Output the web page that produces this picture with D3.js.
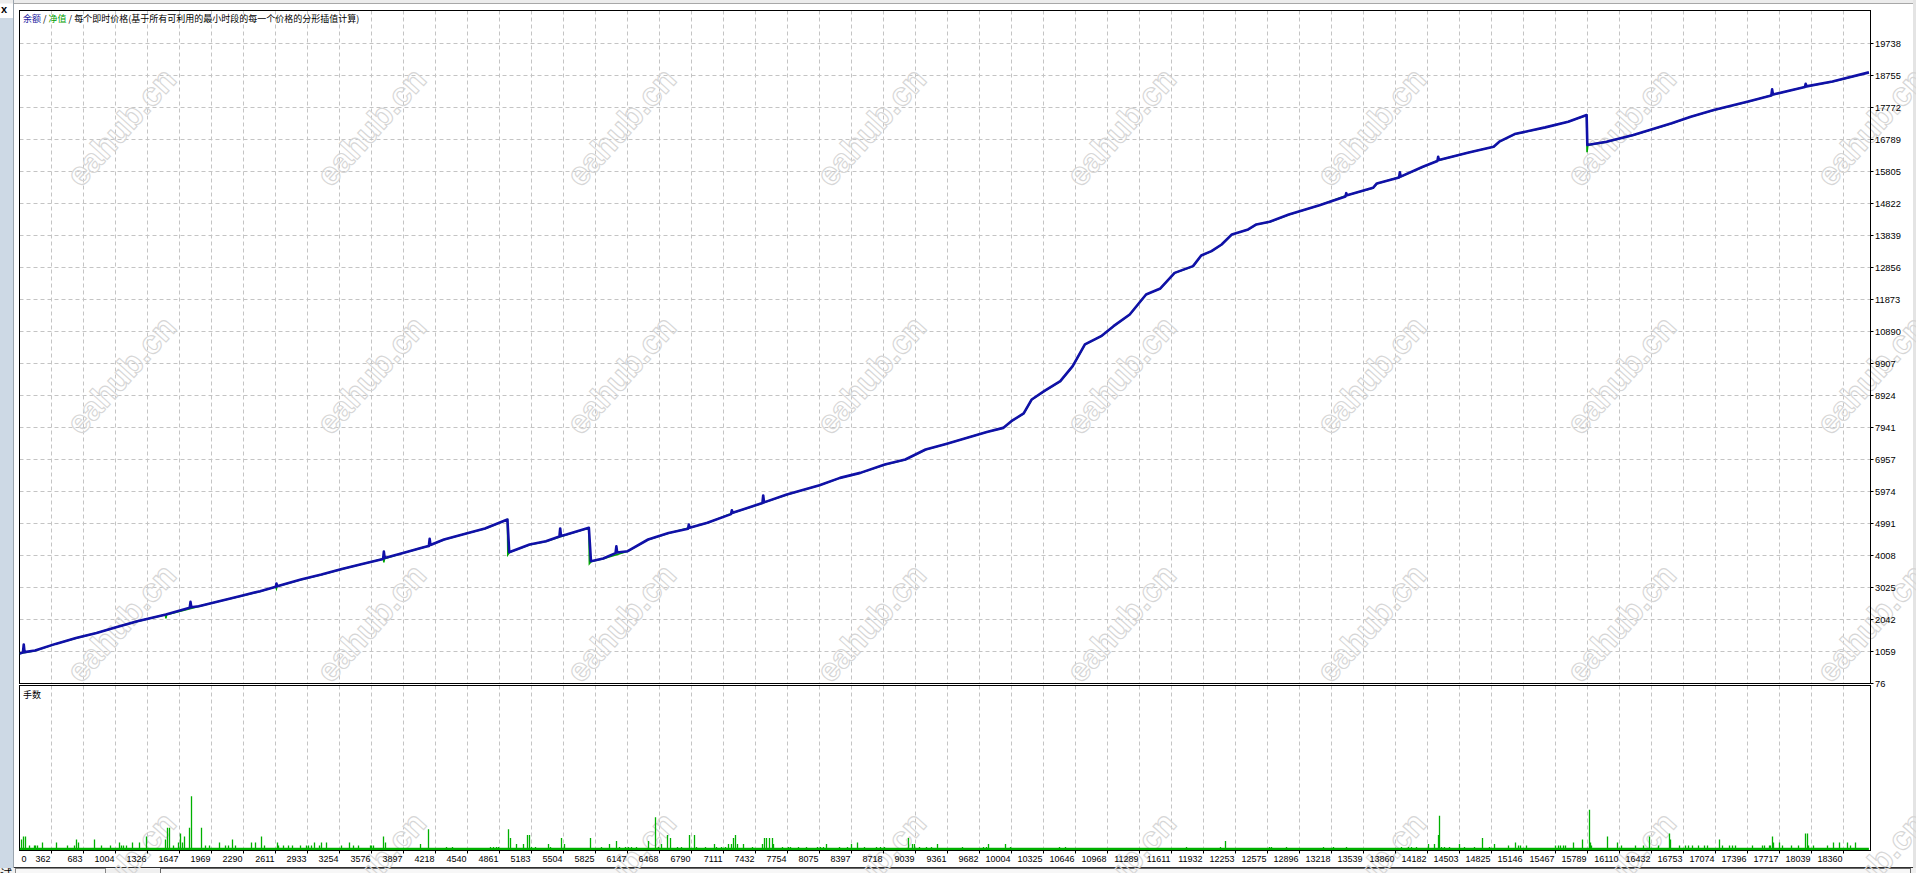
<!DOCTYPE html>
<html><head><meta charset="utf-8">
<script src="https://cdn.jsdelivr.net/npm/d3@7"></script>
<style>html,body{margin:0;padding:0;background:#fff;overflow:hidden}svg{display:block}</style>
</head><body><svg id="c" width="1916" height="873"></svg>
<script>
// ---------- DATA ----------
const xTickLabels = [0,362,683,1004,1326,1647,1969,2290,2611,2933,3254,3576,3897,4218,4540,4861,5183,5504,5825,6147,6468,6790,7111,7432,7754,8075,8397,8718,9039,9361,9682,10004,10325,10646,10968,11289,11611,11932,12253,12575,12896,13218,13539,13860,14182,14503,14825,15146,15467,15789,16110,16432,16753,17074,17396,17717,18039,18360];
const yTickLabels = [76,1059,2042,3025,4008,4991,5974,6957,7941,8924,9907,10890,11873,12856,13839,14822,15805,16789,17772,18755,19738];

// balance: [trade #, balance]
const balance = [[42,1000],[75,1030],[83,1274],[91,1040],[197,1090],[403,1293],[608,1477],[814,1630],[1019,1815],[1224,1990],[1511,2196],[1750,2400],[1758,2583],[1766,2420],[1840,2451],[2046,2604],[2251,2758],[2457,2912],[2615,3050],[2621,3150],[2628,3065],[2867,3271],[3073,3425],[3278,3597],[3483,3750],[3692,3900],[3700,4127],[3708,3930],[3893,4088],[4099,4263],[4152,4300],[4160,4521],[4168,4330],[4304,4500],[4509,4672],[4715,4838],[4941,5115],[4959,4110],[5164,4346],[5328,4448],[5463,4590],[5471,4838],[5479,4610],[5534,4653],[5759,4858],[5780,3833],[5903,3916],[6027,4080],[6035,4290],[6043,4100],[6149,4141],[6354,4500],[6559,4700],[6755,4830],[6763,4960],[6771,4860],[6949,5012],[7187,5280],[7195,5400],[7203,5319],[7502,5620],[7510,5852],[7518,5640],[7747,5883],[8076,6169],[8281,6393],[8485,6547],[8731,6804],[8937,6958],[9141,7265],[9346,7437],[9551,7621],[9756,7806],[9920,7929],[10002,8135],[10126,8372],[10207,8802],[10331,9057],[10494,9364],[10618,9825],[10741,10492],[10904,10747],[11028,11054],[11191,11413],[11355,12028],[11499,12212],[11642,12692],[11827,12898],[11909,13227],[12012,13359],[12114,13564],[12217,13872],[12381,14026],[12463,14180],[12596,14260],[12789,14485],[13097,14771],[13358,15040],[13366,15140],[13374,15078],[13635,15305],[13673,15438],[13896,15620],[13904,15780],[13912,15650],[14135,15951],[14281,16130],[14289,16260],[14297,16160],[14596,16392],[14846,16567],[14903,16721],[15057,16955],[15364,17161],[15595,17336],[15780,17539],[15787,16617],[15980,16721],[16249,16926],[16634,17285],[16826,17490],[17057,17695],[17403,17953],[17635,18140],[17643,18330],[17651,18170],[17972,18400],[17980,18500],[17988,18420],[18249,18570],[18615,18851]];

// equity: [trade #, equity]
const equity = [[42,1000],[197,1080],[403,1290],[608,1470],[814,1625],[1019,1810],[1224,1985],[1505,2190],[1511,2080],[1518,2190],[1840,2445],[2046,2600],[2251,2750],[2457,2905],[2615,3050],[2621,2990],[2628,3060],[2867,3265],[3073,3420],[3278,3590],[3483,3745],[3696,3905],[3700,3800],[3706,3910],[3893,4085],[4099,4258],[4304,4495],[4509,4668],[4715,4833],[4941,5110],[4945,4030],[4962,4105],[5164,4340],[5328,4443],[5534,4648],[5759,4853],[5764,3760],[5783,3828],[5903,3911],[6149,4136],[6354,4495],[6559,4695],[6949,5007],[7203,5314],[7518,5635],[7747,5878],[8076,6164],[8281,6388],[8485,6542],[8731,6799],[8937,6953],[9141,7260],[9346,7432],[9551,7616],[9756,7801],[9920,7924],[10002,8130],[10126,8367],[10207,8797],[10331,9052],[10494,9359],[10618,9820],[10741,10487],[10904,10742],[11028,11049],[11191,11408],[11355,12023],[11499,12207],[11642,12687],[11827,12893],[11909,13222],[12012,13354],[12114,13559],[12217,13867],[12381,14021],[12463,14175],[12596,14255],[12789,14480],[13097,14766],[13374,15073],[13635,15300],[13673,15433],[13912,15645],[14135,15946],[14297,16155],[14596,16387],[14846,16562],[14903,16716],[15057,16950],[15364,17156],[15595,17331],[15780,17534],[15784,16400],[15792,16612],[15980,16716],[16249,16921],[16634,17280],[16826,17485],[17057,17690],[17403,17948],[17651,18165],[17988,18415],[18249,18565],[18615,18846]];

// lots: [trade #, lots]
const lots = [[57,0.07],[77,0.09],[97,0.09],[141,0.03],[191,0.03],[204,0.03],[217,0.03],[268,0.05],[408,0.05],[523,0.03],[589,0.03],[613,0.07],[633,0.05],[794,0.07],[864,0.03],[955,0.03],[1045,0.05],[1068,0.03],[1088,0.03],[1115,0.03],[1176,0.05],[1242,0.05],[1316,0.09],[1510,0.07],[1527,0.15],[1547,0.15],[1583,0.03],[1638,0.05],[1654,0.11],[1674,0.05],[1694,0.09],[1744,0.15],[1764,0.36],[1871,0.15],[1912,0.03],[1945,0.03],[2045,0.05],[2109,0.03],[2143,0.03],[2176,0.07],[2206,0.03],[2367,0.05],[2407,0.05],[2467,0.09],[2497,0.03],[2632,0.05],[2642,0.03],[2695,0.03],[2742,0.03],[2779,0.03],[2863,0.03],[2923,0.03],[2943,0.03],[2969,0.03],[3003,0.05],[3057,0.03],[3074,0.05],[3124,0.05],[3271,0.03],[3351,0.05],[3398,0.03],[3441,0.03],[3566,0.03],[3579,0.03],[3592,0.03],[3692,0.09],[3716,0.05],
[4071,0.04],[4151,0.14],[4331,0.02],[4390,0.02],[4770,0.02],[4802,0.02],[4829,0.02],[4847,0.02],[4950,0.14],[4972,0.08],[5035,0.04],[5098,0.04],[5138,0.10],[5161,0.10],[5179,0.02],[5223,0.02],[5354,0.04],[5376,0.02],[5483,0.08],[5510,0.04],[5780,0.08],[5887,0.02],[5967,0.04],[6035,0.06],[6066,0.02],[6124,0.02],[6156,0.02],[6191,0.02],[6237,0.02],[6358,0.06],[6429,0.22],[6461,0.02],[6493,0.04],[6551,0.10],[6577,0.08],[6649,0.02],[6685,0.02],[6766,0.10],[6819,0.10],[6842,0.02],[6931,0.02],[7021,0.04],[7044,0.02],[7088,0.02],[7133,0.02],[7160,0.04],[7187,0.04],[7214,0.08],[7232,0.10],[7255,0.04],[7313,0.04],[7403,0.02],[7501,0.04],[7523,0.08],[7546,0.08],[7572,0.08],[7600,0.08],[7618,0.04],[7707,0.02],[7761,0.02],[7788,0.02],[7860,0.02],[7949,0.02],[8058,0.02],[8084,0.02],[8111,0.02],[8142,0.04],[8277,0.02],[8353,0.02],[8398,0.04],[8456,0.05],[8524,0.02],[8644,0.02],[8689,0.02],[8725,0.02],[8971,0.08],[9008,0.04],[9030,0.04],[9084,0.02],[9151,0.02],[9196,0.02],[9263,0.04],[9510,0.02],[9725,0.02],[9748,0.02],[9770,0.04],
[9941,0.04],[9994,0.02],[10482,0.02],[10548,0.02],[11759,0.02],[12104,0.02],[12155,0.06],[12592,0.02],[12616,0.02],[12762,0.02],[13135,0.02],[13242,0.02],[13365,0.02],[13922,0.02],[13992,0.02],[14019,0.02],[14069,0.02],[14192,0.04],[14250,0.04],[14288,0.10],[14307,0.23],[14326,0.02],[14353,0.02],[14404,0.02],[14499,0.04],[14557,0.02],[14654,0.02],[14738,0.08],[14807,0.02],[14857,0.04],
[14992,0.03],[15069,0.05],[15093,0.03],[15117,0.03],[15177,0.03],[15471,0.03],[15494,0.03],[15518,0.03],[15551,0.03],[15564,0.03],[15652,0.05],[15739,0.07],[15806,0.27],[15820,0.05],[15833,0.03],[15987,0.09],[16087,0.05],[16131,0.03],[16268,0.03],[16355,0.03],[16408,0.09],[16499,0.03],[16609,0.11],[16623,0.07],[16710,0.03],[16777,0.03],[16804,0.03],[16844,0.03],[16904,0.03],[16968,0.03],[16991,0.03],[17111,0.07],[17145,0.03],[17212,0.03],[17245,0.03],[17279,0.03],[17446,0.03],[17547,0.03],[17570,0.03],[17613,0.03],[17627,0.03],[17647,0.09],[17660,0.05],[17714,0.05],[17747,0.03],[17838,0.03],[17905,0.03],[17975,0.11],[17995,0.11],[18009,0.03],[18055,0.03],[18196,0.03],[18257,0.05],[18317,0.05],[18397,0.05],[18431,0.03],[18478,0.05]];
const baseLots = 0.015;
const firstTrade = 42, lastTrade = 18615;

const legendParts = [["余额","#1a1aa0"],[" / ","#000"],["净值","#00a000"],[" / 每个即时价格(基于所有可利用的最小时段的每一个价格的分形插值计算)","#000"]];
const lotsTitle = "手数";
const watermark = "eahub.cn";

// ---------- LAYOUT ----------
const L = 19.5, R = 1870.5, T = 10.5, B1 = 683.5, T2 = 685.5, B2 = 850.5;
const svg = d3.select("#c");
const x = d3.scaleLinear().domain([40.5, 18631]).range([L, R]);
const y = d3.scaleLinear().domain([76, 76 + 673/32*983.1]).range([B1, T]);
const yL = d3.scaleLinear().domain([0, 1.1]).range([850, 686]);
const px = v => Math.round(v - 0.5) + 0.5;
const CJK = "'Noto Sans CJK SC','Noto Sans',sans-serif";
const NUM = "'Liberation Sans',Arial,sans-serif";

// chrome
svg.append("rect").attr("x",0).attr("y",0).attr("width",1916).attr("height",873).attr("fill","#fff");
svg.append("rect").attr("x",0).attr("y",0).attr("width",1916).attr("height",3.5).attr("fill","#ececec");
svg.append("line").attr("x1",14).attr("x2",1916).attr("y1",3.5).attr("y2",3.5).attr("stroke","#a8a8a8");
svg.append("rect").attr("x",0).attr("y",18).attr("width",13).attr("height",850).attr("fill","#cdd9e5");
svg.append("line").attr("x1",13.5).attr("x2",13.5).attr("y1",0).attr("y2",873).attr("stroke","#9aa4ae");
svg.append("text").attr("x",1).attr("y",13).attr("font-family",NUM).attr("font-weight","bold").attr("font-size",11).text("x");
svg.append("rect").attr("x",1913).attr("y",0).attr("width",3).attr("height",873).attr("fill","#e4e4e4");
svg.append("rect").attr("x",0).attr("y",868).attr("width",1916).attr("height",5).attr("fill","#f0f0f0");
svg.append("line").attr("x1",14).attr("x2",1913).attr("y1",867.5).attr("y2",867.5).attr("stroke","#303030");
svg.append("rect").attr("x",15.5).attr("y",868.5).attr("width",90).attr("height",8).attr("fill","#f7f7f7").attr("stroke","#888");
svg.append("rect").attr("x",160.5).attr("y",868.5).attr("width",1750).attr("height",8).attr("fill","#f7f7f7").attr("stroke","#666");
svg.append("text").attr("x",0).attr("y",879).attr("font-family",CJK).attr("font-size",12).text("试");

// grid
const gx = xTickLabels.filter(v => v > 0).map(v => px(x(v)));
const gGrid = svg.append("g").attr("stroke","#c4c4c4").attr("stroke-dasharray","4,3").attr("stroke-width",1);
gx.forEach(X => {
  gGrid.append("line").attr("x1",X).attr("x2",X).attr("y1",T).attr("y2",B1);
  gGrid.append("line").attr("x1",X).attr("x2",X).attr("y1",T2).attr("y2",B2);
});
yTickLabels.filter(v => v > 76).forEach(v => {
  const Y = px(y(v));
  gGrid.append("line").attr("x1",L).attr("x2",R).attr("y1",Y).attr("y2",Y);
});

// watermarks
const wm = svg.append("g");
[127,375,623,871].forEach(cy => d3.range(8).forEach(i => {
  const cx = 121 + 250*i;
  wm.append("text").attr("x",cx).attr("y",cy).attr("text-anchor","middle").attr("dominant-baseline","central")
    .attr("transform",`rotate(-48 ${cx} ${cy})`).attr("font-family",NUM).attr("font-weight","bold")
    .attr("font-size",33).attr("fill","none").attr("stroke","#d6d6d6").attr("stroke-width",1.1).text(watermark);
}));

// frames
svg.append("rect").attr("x",L).attr("y",T).attr("width",R-L).attr("height",B1-T).attr("fill","none").attr("stroke","#000");
svg.append("rect").attr("x",L).attr("y",T2).attr("width",R-L).attr("height",B2-T2).attr("fill","none").attr("stroke","#000");

// clip
svg.append("clipPath").attr("id","cm").append("rect").attr("x",L).attr("y",T).attr("width",R-L).attr("height",B1-T);
svg.append("clipPath").attr("id","cl").append("rect").attr("x",L).attr("y",T2).attr("width",R-L).attr("height",B2-T2);

// lines
const line = d3.line().x(d => x(d[0])).y(d => y(d[1]));
const gm = svg.append("g").attr("clip-path","url(#cm)");
gm.append("path").attr("d",line(equity)).attr("fill","none").attr("stroke","#00a800").attr("stroke-width",1.6);
gm.append("path").attr("d",line(balance)).attr("fill","none").attr("stroke","#1010a8").attr("stroke-width",2.6).attr("stroke-linejoin","round");

// lots
const gl = svg.append("g").attr("clip-path","url(#cl)");
gl.append("rect").attr("x",x(firstTrade)).attr("width",x(lastTrade)-x(firstTrade))
  .attr("y",yL(baseLots)).attr("height",yL(0)-yL(baseLots)).attr("fill","#00b000");
gl.selectAll("line.b").data(lots).join("line").attr("class","b")
  .attr("x1",d => px(x(d[0]))).attr("x2",d => px(x(d[0])))
  .attr("y1",yL(0)).attr("y2",d => yL(d[1])).attr("stroke","#00b000").attr("stroke-width",1.3);

// axes ticks & labels
const gt = svg.append("g").attr("stroke","#000");
gx.forEach(X => gt.append("line").attr("x1",X).attr("x2",X).attr("y1",B2).attr("y2",B2+3));
yTickLabels.forEach(v => { const Y = px(y(v)); gt.append("line").attr("x1",R).attr("x2",R+3).attr("y1",Y).attr("y2",Y); });

const gxl = svg.append("g").attr("font-family",NUM).attr("font-size",9).attr("fill","#000");
xTickLabels.forEach(v => {
  const t = gxl.append("text").attr("y",859).attr("dominant-baseline","central").text(v);
  if (v === 0) t.attr("x",L+2).attr("text-anchor","start");
  else t.attr("x",px(x(v))-1).attr("text-anchor","end");
});
const gyl = svg.append("g").attr("font-family",NUM).attr("font-size",9.3).attr("fill","#000");
yTickLabels.forEach(v => gyl.append("text").attr("x",1875).attr("y",px(y(v))).attr("dominant-baseline","central").text(v));

// legend
const lg = svg.append("text").attr("x",23).attr("y",17.5).attr("dominant-baseline","central").attr("font-family",CJK).attr("font-size",9);
legendParts.forEach(p => lg.append("tspan").attr("fill",p[1]).text(p[0]));
svg.append("text").attr("x",23).attr("y",694).attr("dominant-baseline","central").attr("font-family",CJK).attr("font-size",9).attr("fill","#000").text(lotsTitle);
</script></body></html>
